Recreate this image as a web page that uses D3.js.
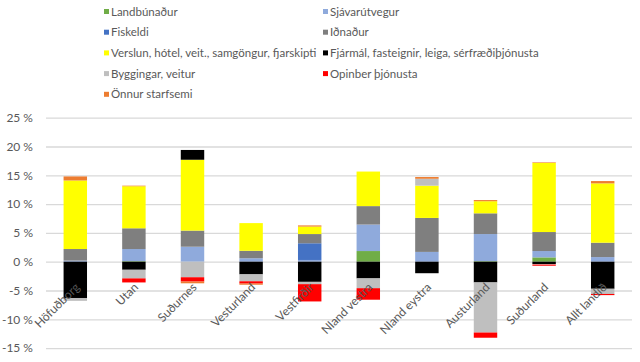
<!DOCTYPE html>
<html>
<head>
<meta charset="utf-8">
<script src="https://cdn.jsdelivr.net/npm/d3@7"></script>
<style>
  body { margin: 0; background: #fff; }
  text { font-family: Lato, "Open Sans", sans-serif; fill: #595959; }
</style>
</head>
<body>
<div id="chart"></div>
<script>
// Categories (regions)
var categories = ["Höfuðborg", "Utan", "Suðurnes", "Vesturland", "Vestfirðir",
                  "Nland vestra", "Nland eystra", "Austurland", "Suðurland", "Allt landið"];

// Series, in legend order (percent)
var seriesNames = ["Landbúnaður", "Sjávarútvegur", "Fiskeldi", "Iðnaður",
                   "Verslun, hótel, veit., samgöngur, fjarskipti",
                   "Fjármál, fasteignir, leiga, sérfræðiþjónusta",
                   "Byggingar, veitur", "Opinber þjónusta", "Önnur starfsemi"];
var landbunadur   = [0, 0.1, 0, 0, 0, 1.85, 0, 0.1, 0.75, 0];
var sjavarutvegur = [0.2, 2.1, 2.6, 0.6, 0.3, 4.6, 1.7, 4.7, 1.1, 0.8];
var fiskeldi      = [0, 0, 0, 0, 2.9, 0, 0, 0, 0, 0];
var idnadur       = [2.0, 3.6, 2.8, 1.3, 1.6, 3.2, 5.9, 3.6, 3.3, 2.5];
var verslun       = [11.9, 7.3, 12.3, 4.8, 1.3, 6.0, 5.6, 2.1, 12.0, 10.3];
var fjarmal       = [-6.3, -1.4, 1.7, -2.2, -3.5, -2.9, -2.0, -3.6, -0.4, -4.7];
var byggingar     = [-0.5, -1.5, -2.7, -1.2, -0.4, -1.7, 1.2, -8.7, -0.1, -0.9];
var opinber       = [0, -0.7, -0.75, -0.4, -3.0, -2.0, 0, -0.9, -0.2, -0.2];
var onnur         = [0.7, 0.1, -0.3, -0.2, 0.2, 0, 0.3, 0.2, 0.1, 0.4];

var yTicks = [-15, -10, -5, 0, 5, 10, 15, 20, 25];

var colors = ["#70AD47", "#8FAADC", "#4472C4", "#7F7F7F", "#FFFF00",
              "#000000", "#BFBFBF", "#FF0000", "#ED7D31"];

var seriesValues = [landbunadur, sjavarutvegur, fiskeldi, idnadur, verslun,
                    fjarmal, byggingar, opinber, onnur];

// build rows for d3.stack
var rows = categories.map(function(c, i) {
    var r = {cat: c};
    seriesNames.forEach(function(s, j) { r[s] = seriesValues[j][i]; });
    return r;
});

var width = 640, height = 362;

var svg = d3.select("#chart").append("svg")
    .attr("width", width)
    .attr("height", height);

// Scales
var x = d3.scaleBand()
    .domain(categories)
    .range([46, 632])
    .paddingInner(0.6)
    .paddingOuter(0.3);

var y = d3.scaleLinear()
    .domain([-15, 25])
    .range([348.1, 117.7]);

// Y axis + gridlines
var yAxis = svg.append("g")
    .attr("transform", "translate(46,0)")
    .call(d3.axisLeft(y)
        .tickValues(yTicks)
        .tickSize(-586)
        .tickPadding(13)
        .tickFormat(function(d) { return d + " %"; }));
yAxis.select(".domain").remove();
yAxis.selectAll("line").attr("stroke", "#D9D9D9").attr("stroke-width", 1.3);
yAxis.selectAll("text").attr("fill", "#595959").style("font-size", "12px");

// Stacked bars
var stack = d3.stack()
    .keys(seriesNames)
    .offset(d3.stackOffsetDiverging);
var layers = stack(rows);

svg.append("g").selectAll("g")
    .data(layers)
    .enter().append("g")
    .attr("fill", function(d, i) { return colors[i]; })
    .selectAll("rect")
    .data(function(d) { return d; })
    .enter().append("rect")
    .attr("x", function(d) { return x(d.data.cat); })
    .attr("width", x.bandwidth())
    .attr("y", function(d) { return y(Math.max(d[0], d[1])); })
    .attr("height", function(d) { return Math.abs(y(d[0]) - y(d[1])); });

// Category labels, rotated
svg.append("g").selectAll("text")
    .data(categories)
    .enter().append("text")
    .attr("text-anchor", "end")
    .style("font-size", "12px")
    .attr("transform", function(d) {
        return "translate(" + (x(d) + x.bandwidth() / 2 + 5) + ",288) rotate(-45)";
    })
    .text(function(d) { return d; });

// Legend, two columns
var legend = svg.append("g").selectAll("g")
    .data(seriesNames)
    .enter().append("g")
    .attr("transform", function(d, i) {
        return "translate(" + (i % 2 === 0 ? 104 : 323) + "," + (11.5 + Math.floor(i / 2) * 20.7) + ")";
    });

legend.append("rect")
    .attr("x", 0)
    .attr("y", -2.5)
    .attr("width", 5)
    .attr("height", 5)
    .attr("fill", function(d, i) { return colors[i]; });

legend.append("text")
    .attr("x", 7)
    .attr("dy", "0.35em")
    .style("font-size", "11.5px")
    .text(function(d) { return d; });
</script>
</body>
</html>
